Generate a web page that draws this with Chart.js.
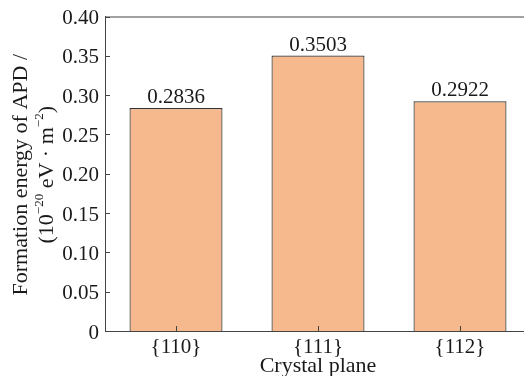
<!DOCTYPE html>
<html>
<head>
<meta charset="utf-8">
<script src="https://cdn.jsdelivr.net/npm/chart.js@4/dist/chart.umd.min.js"></script>
<style>
  html, body { margin: 0; padding: 0; background: #fff; overflow: hidden; }
  #wrap { width: 532px; height: 376px; position: relative; }
</style>
</head>
<body>
<div id="wrap"><canvas id="chart"></canvas></div>
<script>
// APD formation energy per crystal plane
const PLANES = ["{110}", "{111}", "{112}"];
const ENERGIES = [0.2836, 0.3503, 0.2922];
const Y_MIN = 0, Y_MAX = 0.4, Y_STEP = 0.05;
const Y_TITLE_1 = "Formation energy of APD /";
// second line as [text, superscript?] pieces
const Y_TITLE_2 = [["(10", false], ["\u221220", true], [" eV \u00B7 m", false], ["\u22122", true], [")", false]];
const X_TITLE = "Crystal plane";

const FONT = "'Liberation Serif', 'DejaVu Serif', serif";
const INK = "#1a1a1a";
const AXIS = "#444";

// inward ticks, top frame line and value labels over the bars
const decorations = {
  id: "decorations",
  afterDatasetsDraw(chart) {
    const { ctx, chartArea: a, scales: { x, y } } = chart;
    ctx.save();
    ctx.strokeStyle = AXIS;
    ctx.lineWidth = 1;
    ctx.beginPath();
    ctx.moveTo(a.left, a.top + 0.5);
    ctx.lineTo(a.right, a.top + 0.5);
    y.ticks.forEach((t) => {
      const py = Math.round(y.getPixelForValue(t.value)) + 0.5;
      ctx.moveTo(a.left, py);
      ctx.lineTo(a.left + 5, py);
    });
    PLANES.forEach((_p, i) => {
      const px = Math.round(x.getPixelForValue(i)) + 0.5;
      ctx.moveTo(px, a.bottom);
      ctx.lineTo(px, a.bottom - 5);
    });
    ctx.stroke();

    ctx.fillStyle = INK;
    ctx.font = `21px ${FONT}`;
    ctx.textAlign = "center";
    ctx.textBaseline = "alphabetic";
    chart.getDatasetMeta(0).data.forEach((bar, i) => {
      ctx.fillText(ENERGIES[i].toFixed(4), bar.x, bar.y - 5);
    });
    ctx.restore();
  },
  // rotated two-line y title with real superscripts
  afterDraw(chart) {
    const { ctx, chartArea: a } = chart;
    const cy = (a.top + a.bottom) / 2 + 1;
    const big = `22px ${FONT}`, small = `13px ${FONT}`;
    ctx.save();
    ctx.fillStyle = INK;
    ctx.textBaseline = "middle";

    ctx.save();
    ctx.translate(21, cy);
    ctx.rotate(-Math.PI / 2);
    ctx.font = big;
    ctx.textAlign = "center";
    ctx.fillText(Y_TITLE_1, 0, 0);
    ctx.restore();

    ctx.save();
    ctx.translate(47, cy);
    ctx.rotate(-Math.PI / 2);
    ctx.textAlign = "left";
    const widths = Y_TITLE_2.map(([t, sup]) => { ctx.font = sup ? small : big; return ctx.measureText(t).width; });
    let px = -widths.reduce((s, w) => s + w, 0) / 2;
    Y_TITLE_2.forEach(([t, sup], i) => {
      ctx.font = sup ? small : big;
      ctx.fillText(t, px, sup ? -7 : 0);
      px += widths[i];
    });
    ctx.restore();
    ctx.restore();
  },
};

new Chart(document.getElementById("chart"), {
  type: "bar",
  data: {
    labels: PLANES,
    datasets: [{
      data: ENERGIES,
      backgroundColor: "#f5b98d",
      borderColor: "#333",
      borderWidth: 1.2,
      borderSkipped: "bottom",
      categoryPercentage: 1,
      barPercentage: 0.655,
    }],
  },
  options: {
    responsive: true,
    maintainAspectRatio: false,
    animation: false,
    layout: { padding: { left: 0, top: 16, right: 1, bottom: 0 } },
    plugins: { legend: { display: false }, tooltip: { enabled: false } },
    scales: {
      x: {
        grid: { display: false, drawTicks: false },
        border: { display: true, color: AXIS, width: 1 },
        ticks: { color: INK, font: { family: FONT, size: 21, lineHeight: 1 }, padding: 6 },
        title: { display: true, text: X_TITLE, color: INK,
                 font: { family: FONT, size: 22, lineHeight: 0.9 }, padding: 0 },
        afterFit: (s) => { s.height = 45; },
      },
      y: {
        min: Y_MIN, max: Y_MAX,
        grid: { display: false, drawTicks: false },
        border: { display: true, color: AXIS, width: 1 },
        ticks: { stepSize: Y_STEP, color: INK, padding: 6, labelOffset: 2,
                 font: { family: FONT, size: 21, lineHeight: 1 },
                 callback: (v) => (v === 0 ? "0" : v.toFixed(2)) },
        title: { display: false },
        afterFit: (s) => { s.width = 105; },
      },
    },
  },
  plugins: [decorations],
});
</script>
</body>
</html>
